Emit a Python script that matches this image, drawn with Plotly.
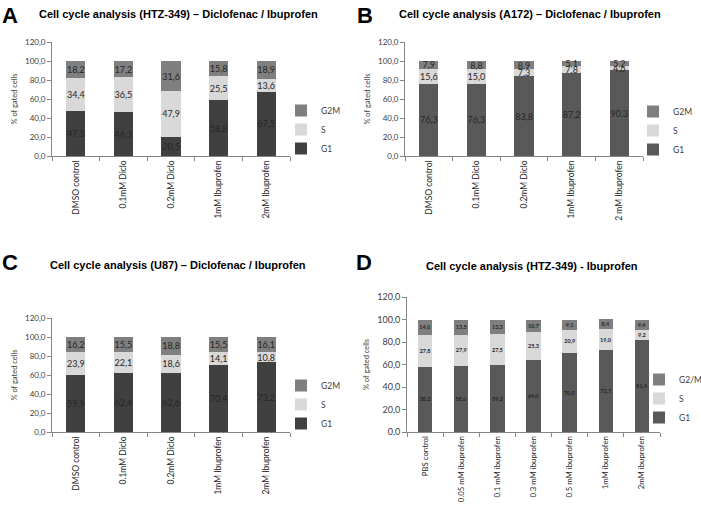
import plotly.graph_objects as go

# ---------------- data ----------------
cats_a = ["DMSO control", "0.1mM Diclo", "0.2mM Diclo", "1mM Ibuprofen", "2mM Ibuprofen"]
a_g1 = [47.5, 46.3, 20.5, 58.8, 67.5]
a_s = [34.4, 36.5, 47.9, 25.5, 13.6]
a_g2m = [18.2, 17.2, 31.6, 15.8, 18.9]

cats_b = ["DMSO control", "0.1mM Diclo", "0.2mM Diclo", "1mM Ibuprofen", "2 mM Ibuprofen"]
b_g1 = [76.3, 76.3, 83.8, 87.2, 90.3]
b_s = [15.6, 15.0, 7.3, 7.8, 4.6]
b_g2m = [7.9, 8.8, 8.9, 5.1, 5.2]

cats_c = ["DMSO control", "0.1mM Diclo", "0.2mM Diclo", "1mM Ibuprofen", "2mM Ibuprofen"]
c_g1 = [59.9, 62.4, 62.6, 70.4, 73.2]
c_s = [23.9, 22.1, 18.6, 14.1, 10.8]
c_g2m = [16.2, 15.5, 18.8, 15.5, 16.1]

cats_d = ["PBS control", "0.05 mM ibuprofen", "0.1 mM ibuprofen", "0.3 mM ibuprofen",
          "0.5 mM ibuprofen", "1mM ibuprofen", "2mM ibuprofen"]
d_g1 = [58.2, 58.6, 59.2, 64.0, 70.0, 72.7, 81.4]
d_s = [27.8, 27.9, 27.5, 25.3, 20.9, 19.0, 9.2]
d_g2m = [14.0, 13.5, 13.3, 10.7, 9.1, 8.4, 9.4]

y_ticks = [0, 20, 40, 60, 80, 100, 120]
y_ticktext = ["0,0", "20,0", "40,0", "60,0", "80,0", "100,0", "120,0"]

titles = ["Cell cycle analysis (HTZ-349) \u2013 Diclofenac / Ibuprofen",
          "Cell cycle analysis (A172) \u2013 Diclofenac / Ibuprofen",
          "Cell cycle analysis (U87) \u2013 Diclofenac / Ibuprofen",
          "Cell cycle analysis (HTZ-349) - Ibuprofen"]
letters = ["A", "B", "C", "D"]

# ---------------- styling ----------------
W, H = 701, 505
FONT = "Lato, 'Open Sans', sans-serif"
TFONT = "'Liberation Sans', Arial, sans-serif"
C_G2M = "#7f7f7f"
C_S = "#d9d9d9"
C_DARK = "#404040"
C_MID = "#595959"


def fmt(v):
    return f"{v:.1f}".replace(".", ",")


def px_x(p):
    return p / W


def px_y(p):
    return 1 - p / H


panels = [
    dict(cats=cats_a, series=[("G1", a_g1, C_DARK), ("S", a_s, C_S), ("G2M", a_g2m, C_G2M)],
         xd=(52, 290), yd=(42, 156), lsize=9, lbold=False, leg=(281, 96), xt=8.5, yt=8),
    dict(cats=cats_b, series=[("G1", b_g1, C_MID), ("S", b_s, C_S), ("G2M", b_g2m, C_G2M)],
         xd=(405, 643), yd=(42, 156), lsize=9, lbold=False, leg=(633, 97), xt=8.5, yt=8),
    dict(cats=cats_c, series=[("G1", c_g1, C_DARK), ("S", c_s, C_S), ("G2M", c_g2m, C_G2M)],
         xd=(52, 290), yd=(318, 432), lsize=9, lbold=False, leg=(281, 371), xt=8.5, yt=8),
    dict(cats=cats_d, series=[("G1", d_g1, C_MID), ("S", d_s, C_S), ("G2/M", d_g2m, C_G2M)],
         xd=(407, 660), yd=(297, 432), lsize=5.5, lbold=True, leg=(639, 365), xt=7.8, yt=9),
]

title_pos = [(178, 14), (530, 14), (178, 265), (532, 266)]
letter_pos = [(0, 15), (355, 15), (0, 262), (354, 262)]

fig = go.Figure()
layout = dict(width=W, height=H, margin=dict(l=0, r=0, t=0, b=0, autoexpand=False),
              paper_bgcolor="white", plot_bgcolor="white", barmode="stack",
              bargap=0.6, showlegend=True, annotations=[])

for i, p in enumerate(panels):
    n = i + 1
    xa = "x" if n == 1 else f"x{n}"
    ya = "y" if n == 1 else f"y{n}"
    lg = "legend" if n == 1 else f"legend{n}"
    for name, vals, col in p["series"]:
        txt = [fmt(v) for v in vals]
        if p["lbold"]:
            txt = [f"<b>{t}</b>" for t in txt]
        fig.add_trace(go.Bar(
            x=p["cats"], y=vals, name=name, marker=dict(color=col, line=dict(width=0)),
            text=txt, textposition="inside", insidetextanchor="middle",
            constraintext="none", textangle=0,
            insidetextfont=dict(family=FONT, size=p["lsize"], color="#262626"),
            xaxis=xa, yaxis=ya, legend=lg, hoverinfo="skip"))
    xkey = "xaxis" if n == 1 else f"xaxis{n}"
    ykey = "yaxis" if n == 1 else f"yaxis{n}"
    layout[xkey] = dict(domain=[px_x(p["xd"][0]), px_x(p["xd"][1])], anchor=ya,
                        type="category", showline=True, linecolor="#868686", linewidth=1,
                        ticks="outside", tickson="boundaries", ticklen=4, tickcolor="#868686",
                        tickangle=-90, tickfont=dict(family=FONT, size=p["xt"], color="#262626"),
                        showgrid=False, zeroline=False, fixedrange=True, automargin=False)
    layout[ykey] = dict(domain=[px_y(p["yd"][1]), px_y(p["yd"][0])], anchor=xa,
                        range=[0, 120], tickvals=y_ticks, ticktext=y_ticktext,
                        showline=True, linecolor="#868686", linewidth=1,
                        ticks="outside", ticklen=4, tickcolor="#868686",
                        tickfont=dict(family=FONT, size=p["yt"], color="#404040"),
                        title=dict(text="% of gated cells", standoff=6,
                                   font=dict(family=FONT, size=7.5, color="#404040")),
                        showgrid=False, zeroline=False, fixedrange=True, automargin=False)
    layout[lg] = dict(x=px_x(p["leg"][0]), y=px_y(p["leg"][1]), xanchor="left", yanchor="top",
                      traceorder="reversed", itemwidth=30, bgcolor="rgba(0,0,0,0)",
                      font=dict(family=FONT, size=8.5, color="#404040"), tracegroupgap=0)
    layout["annotations"].append(dict(
        text=f"<b>{titles[i]}</b>", x=px_x(title_pos[i][0]), y=px_y(title_pos[i][1]),
        xref="paper", yref="paper", xanchor="center", yanchor="middle", showarrow=False,
        font=dict(family=TFONT, size=11, color="black")))
    layout["annotations"].append(dict(
        text=f"<b>{letters[i]}</b>", x=px_x(letter_pos[i][0]), y=px_y(letter_pos[i][1]),
        xref="paper", yref="paper", xanchor="left", yanchor="middle", showarrow=False,
        font=dict(family=TFONT, size=22, color="black")))

fig.update_layout(**layout)
fig.write_html("out.html", config={"displayModeBar": False},
               post_script="document.body.style.margin='0';")
